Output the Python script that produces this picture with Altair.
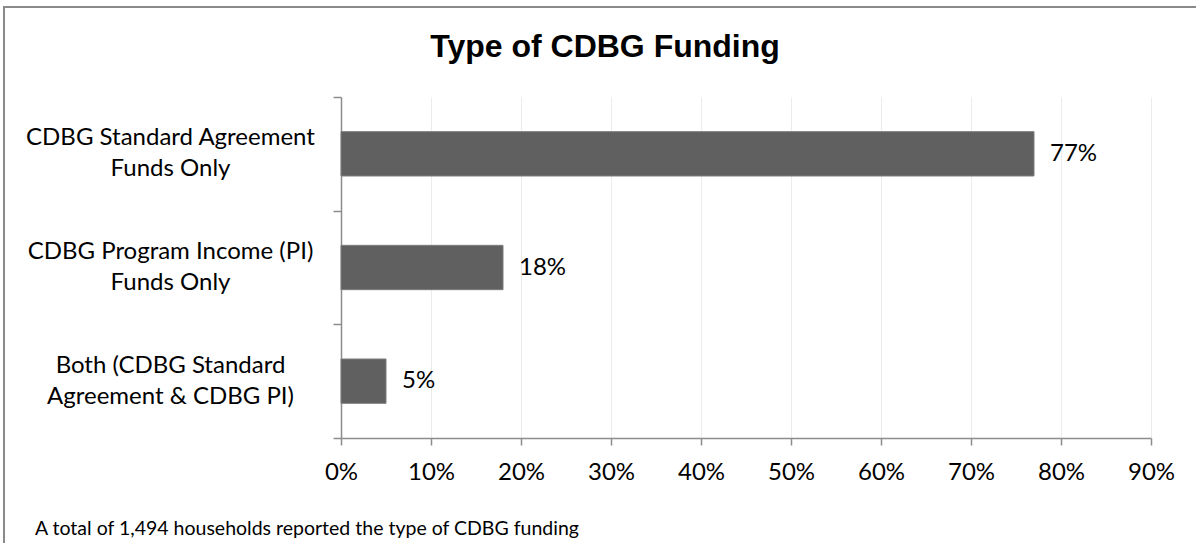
import altair as alt
import pandas as pd

# ---- data ----
categories = [
    "CDBG Standard Agreement|Funds Only",
    "CDBG Program Income (PI)|Funds Only",
    "Both (CDBG Standard |Agreement & CDBG PI)",
]
shares = [0.77, 0.18, 0.05]
value_labels = ["77%", "18%", "5%"]
x_ticks = [0.0, 0.1, 0.2, 0.3, 0.4, 0.5, 0.6, 0.7, 0.8, 0.9]
title_text = ["Type of CDBG Funding"]
footnote_text = ["A total of 1,494 households reported the type of CDBG funding"]

# ---- layout ----
LEFT, TOP = 341, 97
W, H = 810, 341
TOTAL_W, TOTAL_H = 1196, 543
FONT = "Lato"

df = pd.DataFrame({"category": categories, "share": shares, "label": value_labels})

y_enc = alt.Y(
    "category:N",
    sort=categories,
    scale=alt.Scale(paddingInner=0, paddingOuter=0),
    axis=alt.Axis(
        title=None,
        labelExpr="split(datum.label, '|')",
        tickBand="extent",
        labelAlign="center",
        labelPadding=163,
        labelOffset=-16,
        tickSize=8,
        labelLineHeight=31,
        labelFont=FONT,
        labelFontSize=24,
        labelColor="#000000",
        labelLimit=400,
        domainColor="#8c8c8c",
        domainWidth=1.5,
        tickColor="#8c8c8c",
        tickWidth=1.5,
        grid=False,
    ),
)

x_enc = alt.X(
    "share:Q",
    scale=alt.Scale(domain=[0, 0.9], nice=False, zero=True),
    axis=alt.Axis(
        title=None,
        values=x_ticks,
        format=".0%",
        grid=True,
        gridColor="#ececec",
        gridWidth=1,
        tickSize=7,
        labelPadding=15,
        labelFont=FONT,
        labelFontSize=24,
        labelColor="#000000",
        domainColor="#8c8c8c",
        domainWidth=1.5,
        tickColor="#8c8c8c",
        tickWidth=1.5,
        labelFlush=False,
    ),
)

frame = alt.Chart(pd.DataFrame({"k": [0]})).mark_rect(
    fillOpacity=0, stroke="#8a8a8a", strokeWidth=2
).encode(
    x=alt.value(4 - LEFT),
    x2=alt.value(TOTAL_W - LEFT + 300),
    y=alt.value(7 - TOP),
    y2=alt.value(TOTAL_H - TOP + 300),
)

bars = alt.Chart(df).mark_bar(
    height=alt.RelativeBandSize(0.39),
    color="#606060",
    stroke="#7c7c7c",
    strokeWidth=1,
).encode(x=x_enc, y=y_enc)

values = alt.Chart(df).mark_text(
    align="left", baseline="middle", dx=16, font=FONT, fontSize=24, color="#000000"
).encode(
    x="share:Q",
    y=alt.Y("category:N", sort=categories),
    text="label:N",
)

title = alt.Chart(pd.DataFrame({"t": title_text})).mark_text(
    align="center", baseline="alphabetic", font="Liberation Sans",
    fontWeight="bold", fontSize=32, color="#000000"
).encode(
    x=alt.value(605 - LEFT),
    y=alt.value(57 - TOP),
    text="t:N",
)

footnote = alt.Chart(pd.DataFrame({"t": footnote_text})).mark_text(
    align="left", baseline="alphabetic", font=FONT, fontSize=19.5, color="#000000"
).encode(
    x=alt.value(35 - LEFT),
    y=alt.value(535 - TOP),
    text="t:N",
)

chart = alt.layer(frame, bars, values, title, footnote).properties(
    width=W,
    height=H,
    autosize=alt.AutoSizeParams(type="none"),
    padding={"left": LEFT, "top": TOP, "right": TOTAL_W - LEFT - W, "bottom": TOTAL_H - TOP - H},
    background="white",
).configure_view(stroke=None)

chart.save("out.html", embed_options={"renderer": "svg", "actions": False})
